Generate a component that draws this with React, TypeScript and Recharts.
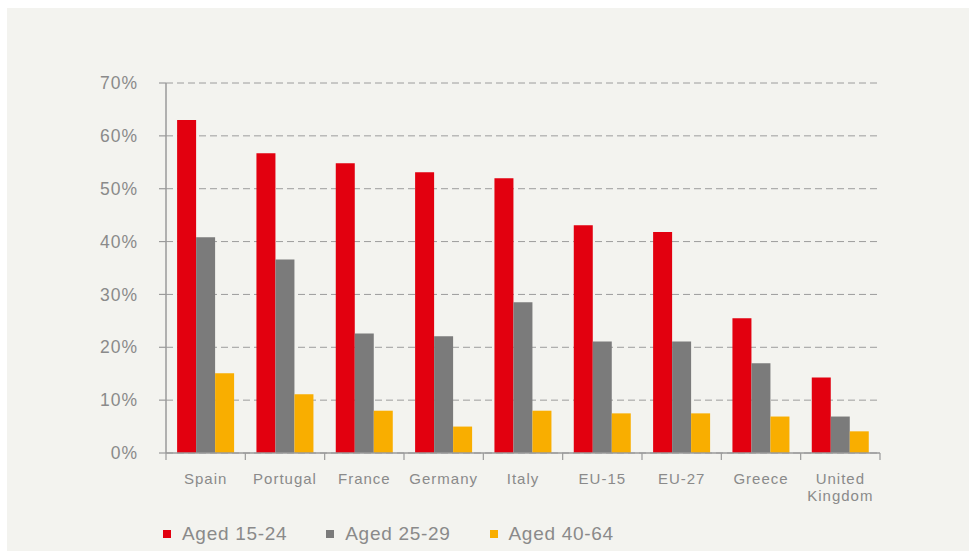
import React from "react";
import { BarChart, Bar, XAxis, YAxis, CartesianGrid, Legend } from "recharts";

const countries = ["Spain", "Portugal", "France", "Germany", "Italy", "EU-15", "EU-27", "Greece", "United Kingdom"];
const aged1524 = [63.0, 56.7, 54.8, 53.1, 52.0, 43.1, 41.8, 25.5, 14.3];
const aged2529 = [40.8, 36.6, 22.6, 22.1, 28.5, 21.1, 21.1, 17.0, 6.9];
const aged4064 = [15.1, 11.1, 8.0, 5.0, 8.0, 7.5, 7.5, 6.9, 4.1];
const yTicks = [0, 10, 20, 30, 40, 50, 60, 70];
const seriesNames = ["Aged 15-24", "Aged 25-29", "Aged 40-64"];

const data = countries.map((c, i) => ({
  country: c,
  a: aged1524[i],
  b: aged2529[i],
  c: aged4064[i],
}));

const W = 962;
const H = 543;
const MARGIN = { top: 75, right: 89, left: 0, bottom: 8 };
const Y_W = 159;
const PLOT_W = W - MARGIN.left - MARGIN.right - Y_W;

const RED = "#e2000f";
const GREY = "#7b7b7b";
const ORANGE = "#f9ae00";
const TEXT = "#8a8a8a";
const AXIS = "#9a9a9a";
const FONT = "'Liberation Sans', Arial, sans-serif";
const colors = [RED, GREY, ORANGE];

const XTick = (props: any) => {
  const { x, y, payload, index } = props;
  const step = PLOT_W / countries.length;
  const lines = String(payload.value).split(" ");
  const last = index === countries.length - 1;
  return (
    <g>
      <line x1={x - step / 2} y1={y} x2={x - step / 2} y2={y + 7} stroke={AXIS} strokeWidth={1.2} />
      {last && <line x1={x + step / 2} y1={y} x2={x + step / 2} y2={y + 7} stroke={AXIS} strokeWidth={1.2} />}
      <text x={x} y={y + 30.5} textAnchor="middle" fill={TEXT} fontSize={15} fontFamily={FONT} style={{ letterSpacing: 1 }}>
        {lines.map((l, i) => (
          <tspan key={i} x={x} dy={i === 0 ? 0 : 17}>
            {l}
          </tspan>
        ))}
      </text>
    </g>
  );
};

const renderLegend = () => (
  <div style={{ height: 30, display: "flex", alignItems: "center", paddingTop: 12, boxSizing: "border-box" }}>
    {seriesNames.map((n, i) => (
      <div key={n} style={{ display: "flex", alignItems: "center", marginRight: 39 }}>
        <span style={{ width: 8, height: 8, background: colors[i], display: "inline-block", marginRight: 11 }} />
        <span style={{ color: TEXT, fontSize: 19, fontFamily: FONT, lineHeight: "20px", letterSpacing: 0.7 }}>{n}</span>
      </div>
    ))}
  </div>
);

export default function App() {
  return (
    <div style={{ position: "absolute", left: 7, top: 8, width: W, height: H, background: "#f3f3ef" }}>
      <BarChart width={W} height={H} data={data} margin={MARGIN} barCategoryGap="14%" barGap={0}>
        <CartesianGrid vertical={false} stroke="#9c9c9c" strokeDasharray="7 4" />
        <XAxis
          dataKey="country"
          height={60}
          interval={0}
          tickLine={false}
          tickSize={0}
          tickMargin={0}
          axisLine={{ stroke: AXIS, strokeWidth: 1.5 }}
          tick={<XTick />}
        />
        <YAxis
          width={Y_W}
          domain={[0, 70]}
          ticks={yTicks}
          interval={0}
          tickFormatter={(v: number) => `${v}%`}
          tickSize={7}
          tickMargin={21}
          tickLine={{ stroke: AXIS, strokeWidth: 1.2 }}
          axisLine={{ stroke: AXIS, strokeWidth: 1.5 }}
          tick={{ fill: TEXT, fontSize: 17.5, fontFamily: FONT, style: { letterSpacing: 1 } }}
        />
        <Legend verticalAlign="bottom" align="left" height={30} content={renderLegend} wrapperStyle={{ left: 156 }} />
        <Bar dataKey="a" name={seriesNames[0]} fill={RED} isAnimationActive={false} />
        <Bar dataKey="b" name={seriesNames[1]} fill={GREY} isAnimationActive={false} />
        <Bar dataKey="c" name={seriesNames[2]} fill={ORANGE} isAnimationActive={false} />
      </BarChart>
    </div>
  );
}
